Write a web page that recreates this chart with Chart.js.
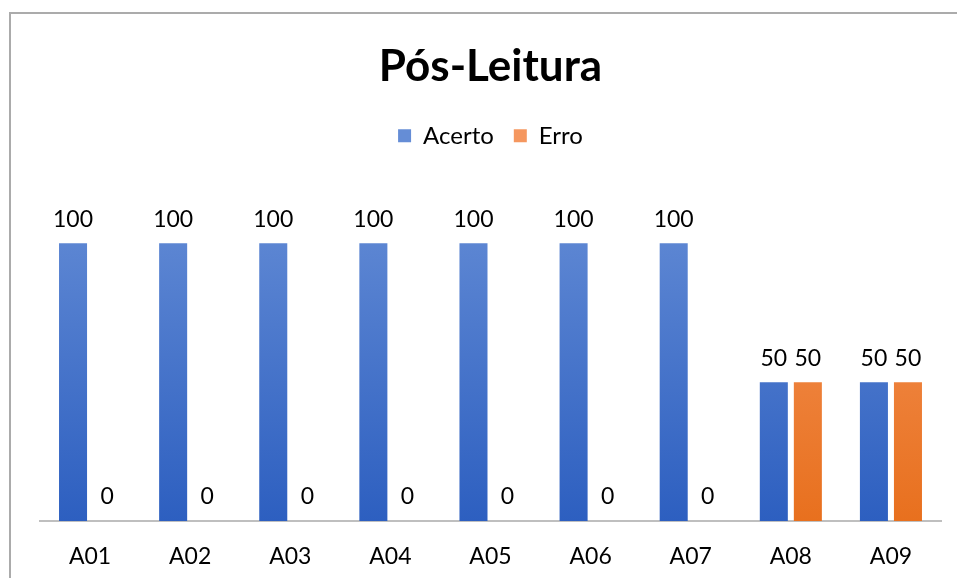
<!DOCTYPE html>
<html>
<head>
<meta charset="utf-8">
<script src="https://cdn.jsdelivr.net/npm/chart.js@4.4.0/dist/chart.umd.min.js"></script>
<style>
  html, body { margin: 0; padding: 0; background: #fff; }
  #wrap { position: relative; width: 957px; height: 578px; overflow: hidden; }
  #frame { position: absolute; left: 9px; top: 12px; width: 1000px; height: 700px;
           border-top: 2px solid #ABABAB; border-left: 2px solid #ABABAB; }
  canvas { position: absolute; left: 0; top: 0; }
</style>
</head>
<body>
<div id="wrap">
  <div id="frame"></div>
  <canvas id="c" width="957" height="578"></canvas>
</div>
<script>
const categories = ["A01", "A02", "A03", "A04", "A05", "A06", "A07", "A08", "A09"];
const acerto = [100, 100, 100, 100, 100, 100, 100, 50, 50];
const erro = [0, 0, 0, 0, 0, 0, 0, 50, 50];
const seriesNames = ["Acerto", "Erro"];

const FONT = "Lato, 'Open Sans', sans-serif";

function grad(top, bottom) {
  return function (context) {
    const chart = context.chart;
    const area = chart.chartArea;
    if (!area) return bottom;
    const g = chart.ctx.createLinearGradient(0, area.top, 0, area.bottom);
    g.addColorStop(0, top);
    g.addColorStop(1, bottom);
    return g;
  };
}

const valueLabels = {
  id: 'valueLabels',
  afterDatasetsDraw(chart) {
    const ctx = chart.ctx;
    ctx.save();
    ctx.font = "23px " + FONT;
    ctx.fillStyle = "#000";
    ctx.textAlign = "center";
    ctx.textBaseline = "middle";
    chart.data.datasets.forEach((ds, i) => {
      const meta = chart.getDatasetMeta(i);
      meta.data.forEach((el, j) => {
        ctx.fillText(String(ds.data[j]), el.x, el.y - 24);
      });
    });
    ctx.restore();
  }
};

const legendMargin = {
  id: 'legendMargin',
  beforeInit(chart) {
    const origFit = chart.legend.fit;
    chart.legend.fit = function () {
      origFit.bind(chart.legend)();
      this.height += 30;
    };
  }
};

new Chart(document.getElementById('c'), {
  type: 'bar',
  data: {
    labels: categories,
    datasets: [
      { label: seriesNames[0], data: acerto, backgroundColor: grad('#658DD6', '#2D5FC0'),
        categoryPercentage: 0.68, barPercentage: 0.8235 },
      { label: seriesNames[1], data: erro, backgroundColor: grad('#F5975F', '#E8701E'),
        categoryPercentage: 0.68, barPercentage: 0.8235 }
    ]
  },
  options: {
    responsive: false,
    animation: false,
    layout: { padding: { left: 40, right: 16, top: 0, bottom: 0 } },
    plugins: {
      title: {
        display: true,
        text: 'Pós-Leitura',
        color: '#000',
        font: { family: FONT, size: 44, weight: 'bold' },
        padding: { top: 40, bottom: 11 }
      },
      legend: {
        display: true,
        labels: {
          color: '#000',
          font: { family: FONT, size: 24 },
          boxWidth: 13,
          boxHeight: 13,
          padding: 20
        }
      },
      tooltip: { enabled: false }
    },
    scales: {
      x: {
        grid: { display: false, drawTicks: false },
        border: { display: true, color: '#BFBFBF', width: 2 },
        ticks: { color: '#000', font: { family: FONT, size: 23 }, padding: 22 },
        afterFit(scale) { scale.height = 57; }
      },
      y: {
        display: false,
        min: 0,
        max: 120
      }
    }
  },
  plugins: [valueLabels, legendMargin]
});
</script>
</body>
</html>
